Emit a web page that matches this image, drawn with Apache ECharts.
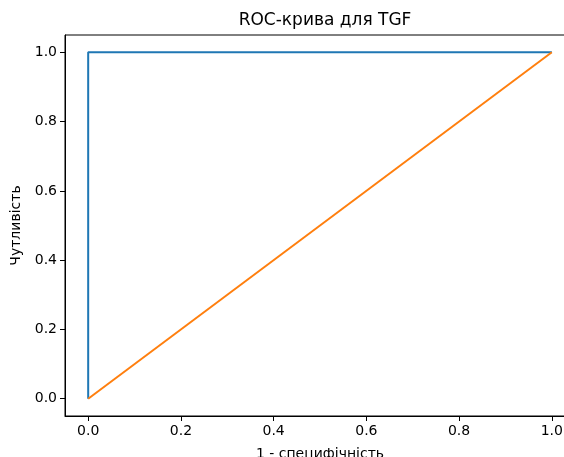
<!DOCTYPE html>
<html>
<head>
<meta charset="utf-8">
<script src="https://cdn.jsdelivr.net/npm/echarts@6/dist/echarts.min.js"></script>
<style>
  html, body { margin: 0; padding: 0; background: #fff; }
  #chart { width: 564px; height: 457px; }
</style>
</head>
<body>
<div id="chart"></div>
<script>
// ROC curve points [1 - specificity, sensitivity]
const rocPoints = [[0, 0], [0, 1], [1, 1]];
const diagonal = [[0, 0], [1, 1]];
const tickValues = [0, 0.2, 0.4, 0.6, 0.8, 1.0];

const chart = echarts.init(document.getElementById('chart'));
const font = 'DejaVu Sans';

const axisCommon = {
  type: 'value',
  min: -0.05,
  max: 1.05,
  splitLine: { show: false },
  axisLine: { show: true, onZero: false, lineStyle: { color: '#000', width: 1 } },
  axisTick: { show: true, length: 5, inside: false, customValues: tickValues, lineStyle: { color: '#000' } },
  axisLabel: {
    customValues: tickValues,
    color: '#000',
    fontFamily: font,
    fontSize: 14,
    margin: 8,
    formatter: v => v.toFixed(1)
  },
  nameLocation: 'middle',
  nameTextStyle: { color: '#000', fontFamily: font, fontSize: 14 }
};

const option = {
  backgroundColor: '#fff',
  animation: false,
  title: {
    text: 'ROC-крива для TGF',
    left: 320,
    textAlign: 'center',
    top: 7,
    textStyle: { fontFamily: font, fontSize: 17, fontWeight: 'normal', color: '#000' }
  },
  grid: {
    left: 65,
    top: 35,
    width: 510,
    height: 381,
    outerBoundsMode: 'none',
    containLabel: false,
    show: true,
    borderColor: '#000',
    borderWidth: 1,
    backgroundColor: 'transparent'
  },
  xAxis: Object.assign({}, axisCommon, {
    name: '1 - специфічність',
    nameGap: 31
  }),
  yAxis: Object.assign({}, axisCommon, {
    name: 'Чутливість',
    nameGap: 42
  }),
  series: [{
    type: 'line',
    data: rocPoints,
    showSymbol: false,
    lineStyle: { color: '#1f77b4', width: 2 },
    itemStyle: { color: '#1f77b4' }
  }, {
    type: 'line',
    data: diagonal,
    showSymbol: false,
    lineStyle: { color: '#ff7f0e', width: 2 },
    itemStyle: { color: '#ff7f0e' }
  }]
};

chart.setOption(option);
</script>
</body>
</html>
